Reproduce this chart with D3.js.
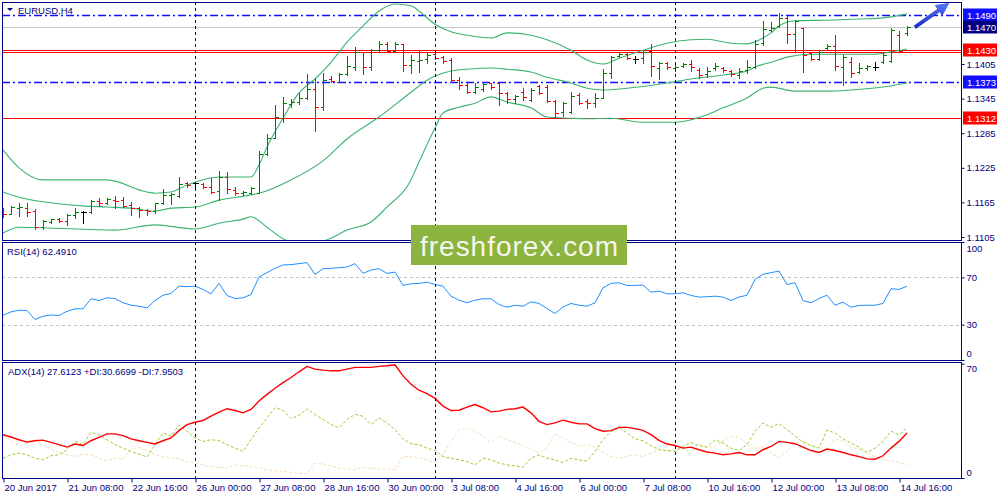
<!DOCTYPE html>
<html>
<head>
<meta charset="utf-8">
<script src="https://cdn.jsdelivr.net/npm/d3@7/dist/d3.min.js"></script>
<style>
  body { margin: 0; background: #fff; }
  text { font-family: "Liberation Sans", Arial, sans-serif; }
</style>
</head>
<body>
<div id="chart"></div>
<script>
// EURUSD H4, 20 Jun - 14 Jul 2017, one label every 8 bars
const timeLabels = ["20 Jun 2017", "21 Jun 08:00", "22 Jun 16:00", "26 Jun 00:00", "27 Jun 08:00",
    "28 Jun 16:00", "30 Jun 00:00", "3 Jul 08:00", "4 Jul 16:00", "6 Jul 00:00", "7 Jul 08:00",
    "10 Jul 16:00", "12 Jul 00:00", "13 Jul 08:00", "14 Jul 16:00"];
const weekStarts = [24, 54, 84];

const open = [1.1150, 1.1145, 1.1155, 1.1155, 1.1150, 1.1122, 1.1131, 1.1136, 1.1133, 1.1143,
    1.1148, 1.1148, 1.1167, 1.1164, 1.1169, 1.1169, 1.1161, 1.1155, 1.1152, 1.1150,
    1.1164, 1.1178, 1.1176, 1.1199, 1.1199, 1.1197, 1.1192, 1.1185, 1.1209, 1.1187,
    1.1181, 1.1181, 1.1181, 1.1249, 1.1277, 1.1311, 1.1336, 1.1339, 1.1346, 1.1362,
    1.1330, 1.1379, 1.1374, 1.1388, 1.1400, 1.1426, 1.1400, 1.1429, 1.1440, 1.1428,
    1.1440, 1.1403, 1.1410, 1.1414, 1.1422, 1.1417, 1.1412, 1.1377, 1.1369, 1.1356,
    1.1362, 1.1372, 1.1372, 1.1355, 1.1344, 1.1356, 1.1343, 1.1367, 1.1365, 1.1341,
    1.1322, 1.1322, 1.1351, 1.1341, 1.1337, 1.1346, 1.1389, 1.1419, 1.1422, 1.1414,
    1.1415, 1.1428, 1.1398, 1.1407, 1.1398, 1.1402, 1.1405, 1.1395, 1.1388, 1.1398,
    1.1398, 1.1393, 1.1386, 1.1395, 1.1400, 1.1441, 1.1464, 1.1471, 1.1485, 1.1457,
    1.1467, 1.1424, 1.1414, 1.1433, 1.1436, 1.1400, 1.1408, 1.1391, 1.1398, 1.1400,
    1.1408, 1.1410, 1.1455, 1.1459];
const high = [1.1155, 1.1159, 1.1164, 1.1164, 1.1154, 1.1134, 1.1136, 1.1138, 1.1145, 1.1155,
    1.1150, 1.1169, 1.1173, 1.1173, 1.1176, 1.1174, 1.1166, 1.1157, 1.1154, 1.1164,
    1.1188, 1.1181, 1.1209, 1.1200, 1.1200, 1.1199, 1.1207, 1.1219, 1.1218, 1.1192,
    1.1185, 1.1192, 1.1254, 1.1284, 1.1334, 1.1348, 1.1344, 1.1355, 1.1388, 1.1381,
    1.1389, 1.1384, 1.1389, 1.1419, 1.1434, 1.1426, 1.1431, 1.1445, 1.1443, 1.1443,
    1.1440, 1.1421, 1.1428, 1.1424, 1.1428, 1.1419, 1.1415, 1.1382, 1.1372, 1.1372,
    1.1374, 1.1372, 1.1372, 1.1356, 1.1351, 1.1363, 1.1363, 1.1369, 1.1369, 1.1343,
    1.1339, 1.1356, 1.1355, 1.1344, 1.1355, 1.1396, 1.1419, 1.1424, 1.1424, 1.1419,
    1.1428, 1.1440, 1.1408, 1.1408, 1.1403, 1.1407, 1.1412, 1.1398, 1.1400, 1.1407,
    1.1400, 1.1395, 1.1398, 1.1412, 1.1447, 1.1480, 1.1478, 1.1493, 1.1488, 1.1481,
    1.1467, 1.1426, 1.1429, 1.1440, 1.1455, 1.1421, 1.1417, 1.1407, 1.1403, 1.1408,
    1.1424, 1.1467, 1.1462, 1.1471];
const low = [1.1140, 1.1145, 1.1141, 1.1141, 1.1119, 1.1119, 1.1129, 1.1131, 1.1126, 1.1138,
    1.1129, 1.1147, 1.1159, 1.1162, 1.1155, 1.1157, 1.1143, 1.1140, 1.1143, 1.1147,
    1.1162, 1.1162, 1.1174, 1.1192, 1.1187, 1.1190, 1.1181, 1.1169, 1.1181, 1.1178,
    1.1178, 1.1180, 1.1181, 1.1247, 1.1277, 1.1304, 1.1330, 1.1336, 1.1344, 1.1289,
    1.1325, 1.1374, 1.1374, 1.1386, 1.1395, 1.1388, 1.1395, 1.1426, 1.1426, 1.1426,
    1.1393, 1.1389, 1.1391, 1.1407, 1.1414, 1.1407, 1.1374, 1.1362, 1.1355, 1.1355,
    1.1358, 1.1362, 1.1334, 1.1337, 1.1337, 1.1343, 1.1341, 1.1353, 1.1339, 1.1313,
    1.1315, 1.1320, 1.1336, 1.1329, 1.1330, 1.1346, 1.1381, 1.1417, 1.1414, 1.1407,
    1.1407, 1.1384, 1.1379, 1.1396, 1.1393, 1.1400, 1.1393, 1.1381, 1.1382, 1.1395,
    1.1391, 1.1384, 1.1381, 1.1389, 1.1398, 1.1438, 1.1462, 1.1469, 1.1441, 1.1426,
    1.1391, 1.1412, 1.1412, 1.1429, 1.1395, 1.1369, 1.1382, 1.1389, 1.1395, 1.1395,
    1.1407, 1.1408, 1.1426, 1.1455];
const close = [1.1145, 1.1157, 1.1157, 1.1148, 1.1122, 1.1133, 1.1136, 1.1133, 1.1143, 1.1148,
    1.1148, 1.1167, 1.1164, 1.1171, 1.1167, 1.1159, 1.1155, 1.1152, 1.1150, 1.1164,
    1.1178, 1.1180, 1.1197, 1.1195, 1.1199, 1.1192, 1.1183, 1.1209, 1.1188, 1.1181,
    1.1183, 1.1190, 1.1249, 1.1277, 1.1313, 1.1337, 1.1339, 1.1346, 1.1362, 1.1330,
    1.1377, 1.1376, 1.1388, 1.1402, 1.1426, 1.1400, 1.1429, 1.1440, 1.1428, 1.1440,
    1.1403, 1.1412, 1.1412, 1.1421, 1.1415, 1.1410, 1.1377, 1.1369, 1.1356, 1.1365,
    1.1370, 1.1365, 1.1355, 1.1344, 1.1350, 1.1348, 1.1360, 1.1355, 1.1341, 1.1320,
    1.1337, 1.1350, 1.1337, 1.1337, 1.1346, 1.1389, 1.1417, 1.1422, 1.1415, 1.1414,
    1.1426, 1.1402, 1.1407, 1.1400, 1.1400, 1.1405, 1.1400, 1.1386, 1.1393, 1.1402,
    1.1395, 1.1388, 1.1393, 1.1400, 1.1440, 1.1466, 1.1467, 1.1485, 1.1457, 1.1480,
    1.1421, 1.1414, 1.1426, 1.1436, 1.1402, 1.1417, 1.1389, 1.1398, 1.1402, 1.1400,
    1.1421, 1.1464, 1.1428, 1.1469];

// Bollinger bands, read at some bars only
const upperIdx = [0, 2, 5, 13, 18, 19, 21, 23, 27, 31, 32, 33, 35, 37, 39, 41, 43, 45, 47, 49,
    51, 52, 54, 56, 58, 61, 63, 66, 68, 71, 73, 75, 77, 80, 83, 86, 88, 91, 93, 95,
    96, 97, 99, 103, 107, 110, 113];
const upperVal = [1.1256, 1.1225, 1.1204, 1.1204, 1.1183, 1.1181, 1.1183, 1.1195, 1.1209, 1.1209,
    1.1230, 1.1261, 1.1311, 1.1355, 1.1379, 1.1408, 1.1443, 1.1471, 1.1497, 1.1509,
    1.1506, 1.1497, 1.1474, 1.1461, 1.1455, 1.1450, 1.1459, 1.1455, 1.1447, 1.1429,
    1.1412, 1.1405, 1.1415, 1.1429, 1.1441, 1.1447, 1.1448, 1.1441, 1.1440, 1.1450,
    1.1459, 1.1471, 1.1480, 1.1481, 1.1483, 1.1485, 1.1492];
const midIdx = [0, 2, 5, 10, 13, 16, 19, 21, 24, 27, 31, 32, 36, 40, 43, 47, 51, 53, 56, 58,
    61, 63, 66, 68, 71, 73, 75, 78, 83, 86, 90, 93, 94, 96, 98, 101, 105, 109, 111, 113];
const midVal = [1.1183, 1.1174, 1.1166, 1.1159, 1.1157, 1.1155, 1.1150, 1.1155, 1.1157, 1.1169,
    1.1178, 1.1181, 1.1204, 1.1237, 1.1275, 1.1313, 1.1356, 1.1377, 1.1393, 1.1396,
    1.1398, 1.1396, 1.1391, 1.1382, 1.1372, 1.1363, 1.1360, 1.1363, 1.1372, 1.1379,
    1.1386, 1.1393, 1.1400, 1.1408, 1.1417, 1.1422, 1.1422, 1.1422, 1.1426, 1.1431];
const lowerIdx = [0, 2, 5, 14, 19, 24, 25, 27, 30, 31, 33, 35, 38, 41, 43, 46, 48, 51, 52, 54,
    55, 57, 59, 61, 63, 66, 68, 71, 73, 76, 80, 84, 88, 90, 93, 95, 96, 99, 103, 106,
    110, 113];
const lowerVal = [1.1112, 1.1122, 1.1121, 1.1117, 1.1126, 1.1119, 1.1121, 1.1129, 1.1136, 1.1140,
    1.1122, 1.1102, 1.1091, 1.1103, 1.1117, 1.1131, 1.1157, 1.1204, 1.1235, 1.1294,
    1.1320, 1.1330, 1.1337, 1.1348, 1.1339, 1.1329, 1.1313, 1.1311, 1.1310, 1.1311,
    1.1304, 1.1304, 1.1317, 1.1329, 1.1346, 1.1363, 1.1365, 1.1358, 1.1358, 1.1360,
    1.1365, 1.1372];

const rsi = [37.9, 40.8, 42.2, 42.0, 34.3, 37.1, 38.2, 37.7, 41.3, 43.4,
    43.4, 51.9, 50.4, 52.7, 52.1, 48.5, 46.4, 45.6, 44.2, 50.4,
    54.9, 56.4, 62.6, 62.1, 62.6, 59.8, 56.1, 64.9, 54.7, 52.1,
    52.7, 55.5, 70.3, 74.0, 77.7, 80.6, 80.8, 81.7, 82.5, 72.6,
    77.4, 77.7, 78.2, 78.8, 81.7, 73.4, 76.2, 77.4, 73.4, 74.5,
    63.2, 64.6, 64.9, 66.0, 64.0, 62.6, 54.1, 50.7, 48.5, 50.7,
    51.9, 51.9, 47.0, 44.7, 46.4, 45.6, 49.3, 47.9, 43.6, 39.4,
    45.0, 47.9, 46.4, 45.6, 48.5, 61.2, 64.9, 65.5, 63.2, 63.2,
    63.5, 57.5, 58.4, 56.1, 56.1, 57.0, 54.7, 53.3, 53.6, 54.1,
    53.3, 50.4, 53.3, 54.9, 68.3, 72.6, 74.0, 75.4, 64.0, 65.5,
    50.4, 48.5, 52.1, 54.9, 46.4, 49.0, 44.7, 46.2, 46.4, 46.4,
    47.9, 60.4, 59.8, 62.5];

const adx = [26.5, 25.1, 23.4, 22.0, 22.8, 23.2, 21.8, 20.4, 18.9, 20.8,
    19.9, 22.8, 24.9, 27.0, 27.0, 25.9, 23.9, 22.8, 21.8, 20.8,
    22.8, 24.5, 29.0, 32.7, 34.1, 35.2, 37.8, 40.3, 42.4, 41.3,
    39.9, 42.0, 47.1, 51.2, 54.9, 58.4, 61.5, 65.0, 68.3, 66.6,
    66.0, 65.6, 65.6, 66.6, 67.7, 67.7, 67.7, 68.3, 68.7, 69.3,
    62.5, 57.4, 53.7, 51.6, 48.7, 44.0, 41.3, 41.5, 43.4, 45.0,
    43.0, 40.5, 40.9, 42.0, 42.4, 43.4, 39.9, 34.7, 32.7, 33.7,
    35.4, 34.1, 33.1, 33.1, 30.2, 28.6, 29.0, 31.0, 31.0, 30.2,
    29.2, 26.5, 23.0, 20.8, 19.9, 18.3, 18.9, 17.3, 15.9, 15.2,
    14.2, 14.8, 15.6, 14.2, 14.2, 17.3, 19.3, 22.4, 21.8, 21.0,
    18.9, 16.8, 15.6, 17.7, 16.8, 15.6, 14.2, 13.1, 11.7, 11.5,
    13.6, 18.3, 22.4, 27.6];
const plusDI = [12.1, 14.2, 15.2, 14.2, 12.1, 11.1, 13.6, 14.2, 17.3, 22.4,
    20.4, 28.0, 26.5, 23.4, 20.4, 18.3, 16.2, 14.6, 12.8, 20.4,
    27.6, 25.5, 32.3, 28.6, 24.5, 22.4, 23.4, 23.0, 20.4, 18.3,
    16.2, 23.4, 30.7, 36.8, 43.0, 41.5, 36.4, 38.3, 42.4, 38.9,
    35.8, 32.7, 30.7, 35.8, 38.9, 37.8, 32.7, 36.8, 33.7, 29.6,
    23.9, 21.0, 20.4, 18.3, 16.8, 13.1, 12.1, 11.1, 10.1, 8.0,
    12.1, 11.1, 9.2, 8.0, 7.4, 6.6, 12.1, 14.2, 12.1, 11.1,
    9.4, 12.1, 11.1, 10.5, 16.2, 23.4, 28.6, 30.7, 27.6, 23.9,
    22.8, 19.7, 17.3, 16.8, 16.2, 19.3, 21.8, 19.7, 18.9, 23.4,
    21.4, 18.3, 16.8, 20.4, 28.6, 33.7, 31.0, 33.3, 29.6, 25.9,
    21.8, 19.7, 18.3, 29.2, 27.6, 23.9, 21.4, 18.9, 15.6, 18.3,
    22.4, 28.6, 26.5, 30.7];
const minusDI = [25.5, 23.4, 19.7, 21.4, 23.4, 20.4, 17.7, 15.6, 14.2, 13.1,
    14.6, 14.2, 12.1, 10.5, 12.1, 11.5, 17.7, 18.7, 16.8, 14.2,
    13.1, 12.1, 11.7, 10.1, 9.4, 8.0, 7.0, 6.6, 6.0, 8.0,
    7.4, 7.0, 6.0, 4.9, 4.5, 3.9, 3.5, 2.9, 2.5, 9.1,
    8.6, 7.4, 6.0, 5.4, 4.9, 6.6, 6.0, 5.4, 5.4, 4.9,
    13.1, 13.1, 12.1, 11.1, 9.4, 14.8, 22.4, 29.6, 30.7, 28.6,
    25.5, 21.4, 25.9, 23.4, 21.8, 19.7, 17.7, 15.2, 18.9, 27.1,
    24.5, 21.8, 19.7, 20.4, 18.9, 15.6, 13.1, 12.1, 13.1, 14.2,
    13.1, 15.2, 17.7, 16.8, 17.3, 18.9, 14.8, 21.0, 18.9, 18.9,
    22.8, 25.5, 25.1, 20.4, 17.7, 19.3, 15.2, 12.5, 16.2, 21.4,
    22.4, 20.4, 18.3, 18.3, 23.9, 22.4, 18.9, 17.7, 15.6, 13.1,
    11.5, 10.5, 9.4, 8.0];

const priceTicks = [1.1405, 1.1345, 1.1285, 1.1225, 1.1165, 1.1105];
const dashDotLevels = [1.1490, 1.1373];
const redLevels = [1.1430, 1.1426, 1.1312];
const bidPrice = 1.1470;
const levelTags = [
    { p: 1.1490, color: "#1010ff" },
    { p: 1.1470, color: "#000080" },
    { p: 1.1430, color: "#ff0000" },
    { p: 1.1373, color: "#1010ff" },
    { p: 1.1312, color: "#ff0000" }
];
const trendArrow = { from: [114, 1.1469], to: [118.2, 1.1510] };


document.addEventListener('DOMContentLoaded', function () {
    const width = 1000;
    const height = 500;
    const left = 2, right = 961;
    const mainTop = 2, mainBottom = 240;
    const rsiTop = 242, rsiBottom = 360;
    const adxTop = 362, adxBottom = 478;
    const navy = "#000080";

    const svg = d3.select("#chart")
        .append("svg")
        .attr("width", width)
        .attr("height", height);

    const x = d3.scaleLinear().domain([0, 113]).range([3, 907]);
    const y = d3.scaleLinear().domain([1.1105, 1.1490]).range([237, 15]);
    const yRsi = d3.scaleLinear().domain([0, 100]).range([rsiBottom, rsiTop]);
    const yAdx = d3.scaleLinear().domain([0, 71]).range([adxBottom, adxTop]);
    const px = i => Math.round(x(i)) + 0.5;

    const defs = svg.append("defs");
    [["clipMain", mainTop, mainBottom], ["clipRsi", rsiTop, rsiBottom], ["clipAdx", adxTop, adxBottom]]
        .forEach(([id, t, b]) => {
            defs.append("clipPath").attr("id", id)
                .append("rect").attr("x", left).attr("y", t).attr("width", right - left).attr("height", b - t);
        });

    const main = svg.append("g").attr("clip-path", "url(#clipMain)");

    // horizontal levels
    main.append("line")
        .attr("x1", left).attr("x2", right)
        .attr("y1", Math.round(y(bidPrice)) + 0.5).attr("y2", Math.round(y(bidPrice)) + 0.5)
        .attr("stroke", "#c8c8c8");

    main.selectAll(".dd")
        .data(dashDotLevels)
        .enter().append("line")
        .attr("x1", left).attr("x2", right)
        .attr("y1", d => Math.round(y(d)) + 0.5).attr("y2", d => Math.round(y(d)) + 0.5)
        .attr("stroke", "#1010ff")
        .attr("stroke-width", 1.3)
        .attr("stroke-dasharray", "8,3,2,3");

    main.selectAll(".red")
        .data(redLevels)
        .enter().append("line")
        .attr("x1", left).attr("x2", right)
        .attr("y1", d => Math.round(y(d)) + 0.5).attr("y2", d => Math.round(y(d)) + 0.5)
        .attr("stroke", "#ff0000")
        .attr("stroke-width", 1.2);

    // bollinger bands
    const band = d3.line()
        .x(d => x(d[0]))
        .y(d => y(d[1]))
        .curve(d3.curveMonotoneX);

    [[upperIdx, upperVal], [midIdx, midVal], [lowerIdx, lowerVal]].forEach(([idx, val]) => {
        main.append("path")
            .datum(d3.zip(idx, val))
            .attr("fill", "none")
            .attr("stroke", "#3cb371")
            .attr("stroke-width", 1.1)
            .attr("d", band);
    });

    // OHLC bars
    const bars = open.map((o, i) => ({ i: i, o: o, h: high[i], l: low[i], c: close[i] }));
    const barColor = d => d.c > d.o ? "#008000" : (d.c < d.o ? "#ff0000" : "#000000");

    const bar = main.append("g")
        .attr("shape-rendering", "crispEdges")
        .selectAll("g")
        .data(bars)
        .enter().append("g")
        .attr("stroke", barColor);

    bar.append("line")
        .attr("x1", d => px(d.i)).attr("x2", d => px(d.i))
        .attr("y1", d => Math.round(y(d.h))).attr("y2", d => Math.round(y(d.l)) + 1);
    bar.append("line")
        .attr("x1", d => px(d.i) - 3).attr("x2", d => px(d.i))
        .attr("y1", d => Math.round(y(d.o)) + 0.5).attr("y2", d => Math.round(y(d.o)) + 0.5);
    bar.append("line")
        .attr("x1", d => px(d.i)).attr("x2", d => px(d.i) + 3)
        .attr("y1", d => Math.round(y(d.c)) + 0.5).attr("y2", d => Math.round(y(d.c)) + 0.5);

    // arrow
    const a0 = [x(trendArrow.from[0]), y(trendArrow.from[1])];
    const a1 = [x(trendArrow.to[0]), y(trendArrow.to[1])];
    const len = Math.hypot(a1[0] - a0[0], a1[1] - a0[1]);
    const ux = (a1[0] - a0[0]) / len, uy = (a1[1] - a0[1]) / len;
    const nx = -uy, ny = ux;
    const head = 12, hw = 6, sw = 1.6;
    const bx = a1[0] - head * ux, by = a1[1] - head * uy;
    const arrowPts = [
        [a0[0] + sw * nx, a0[1] + sw * ny],
        [bx + sw * nx, by + sw * ny],
        [bx + hw * nx, by + hw * ny],
        a1,
        [bx - hw * nx, by - hw * ny],
        [bx - sw * nx, by - sw * ny],
        [a0[0] - sw * nx, a0[1] - sw * ny]
    ];
    const grad = defs.append("linearGradient").attr("id", "arrowGrad")
        .attr("x1", "0").attr("y1", "0").attr("x2", "0").attr("y2", "1");
    grad.append("stop").attr("offset", "0").attr("stop-color", "#5a78ff");
    grad.append("stop").attr("offset", "1").attr("stop-color", "#1428c8");
    svg.append("path")
        .attr("d", "M" + arrowPts.map(p => p.join(",")).join("L") + "Z")
        .attr("fill", "url(#arrowGrad)")
        .attr("stroke", "#1a2cc0")
        .attr("stroke-width", 0.6);

    // RSI panel
    const rsiG = svg.append("g").attr("clip-path", "url(#clipRsi)");
    [70, 30].forEach(v => {
        rsiG.append("line")
            .attr("x1", left).attr("x2", right)
            .attr("y1", Math.round(yRsi(v)) + 0.5).attr("y2", Math.round(yRsi(v)) + 0.5)
            .attr("stroke", "#c0c0c0")
            .attr("stroke-dasharray", "3,3");
    });
    rsiG.append("path")
        .datum(rsi)
        .attr("fill", "none")
        .attr("stroke", "#1e90ff")
        .attr("stroke-width", 1)
        .attr("d", d3.line().x((d, i) => x(i)).y(d => yRsi(d)));

    // ADX panel
    const adxG = svg.append("g").attr("clip-path", "url(#clipAdx)");
    const adxLine = d3.line().x((d, i) => x(i)).y(d => yAdx(d));
    adxG.append("path").datum(minusDI)
        .attr("fill", "none").attr("stroke", "#f5deb3").attr("stroke-width", 1)
        .attr("stroke-dasharray", "3,2").attr("d", adxLine);
    adxG.append("path").datum(plusDI)
        .attr("fill", "none").attr("stroke", "#9acd32").attr("stroke-width", 1)
        .attr("stroke-dasharray", "3,2").attr("d", adxLine);
    adxG.append("path").datum(adx)
        .attr("fill", "none").attr("stroke", "#ff0000").attr("stroke-width", 1.4)
        .attr("d", adxLine);

    // week separators
    svg.append("g").selectAll("line")
        .data(weekStarts)
        .enter().append("line")
        .attr("x1", d => px(d)).attr("x2", d => px(d))
        .attr("y1", mainTop).attr("y2", adxBottom)
        .attr("stroke", navy)
        .attr("stroke-dasharray", "3,3");

    // panel frames
    [[mainTop, mainBottom], [rsiTop, rsiBottom], [adxTop, adxBottom]].forEach(([t, b]) => {
        svg.append("rect")
            .attr("x", left + 0.5).attr("y", t + 0.5)
            .attr("width", right - left).attr("height", b - t)
            .attr("fill", "none").attr("stroke", navy)
            .attr("shape-rendering", "crispEdges");
    });

    // right axes
    const styleAxis = g => g
        .attr("font-family", "'Liberation Sans', Arial, sans-serif")
        .attr("font-size", 9.5)
        .call(g => g.select(".domain").remove())
        .call(g => g.selectAll("line").attr("stroke", navy))
        .call(g => g.selectAll("text").attr("fill", navy).attr("x", 5));

    svg.append("g")
        .attr("transform", `translate(${right + 0.5},0)`)
        .call(d3.axisRight(y).tickValues(priceTicks).tickSize(3).tickFormat(d3.format(".4f")))
        .call(styleAxis);

    svg.append("g")
        .attr("transform", `translate(${right + 0.5},0)`)
        .call(d3.axisRight(yRsi).tickValues([100, 70, 30, 0]).tickSize(3))
        .call(styleAxis)
        .call(g => g.selectAll("text").attr("dy", d => d === 100 ? "1.05em" : d === 0 ? "-0.42em" : "0.32em"));

    svg.append("g")
        .attr("transform", `translate(${right + 0.5},0)`)
        .call(d3.axisRight(yAdx).tickValues([70, 0]).tickSize(3))
        .call(styleAxis)
        .call(g => g.selectAll("text").attr("dy", d => d === 70 ? "0.78em" : "-0.31em"));

    // price tags
    const tag = svg.append("g").selectAll("g")
        .data(levelTags)
        .enter().append("g")
        .attr("transform", d => `translate(${right + 2},${Math.round(y(d.p))})`);
    tag.append("rect")
        .attr("x", 0).attr("y", -6.5)
        .attr("width", 34).attr("height", 13)
        .attr("fill", d => d.color);
    tag.append("text")
        .attr("x", 4).attr("y", 0.5)
        .attr("dominant-baseline", "central")
        .attr("font-size", 9.5)
        .attr("fill", "#fff")
        .text(d => d3.format(".4f")(d.p));

    // time axis
    svg.append("g")
        .attr("transform", `translate(0,${adxBottom + 0.5})`)
        .call(d3.axisBottom(x).tickValues(timeLabels.map((t, k) => k * 8)).tickSize(4)
            .tickFormat((d, k) => timeLabels[k]))
        .call(g => g.select(".domain").remove())
        .attr("font-family", "'Liberation Sans', Arial, sans-serif")
        .attr("font-size", 9.5)
        .call(g => g.selectAll("line").attr("stroke", navy).attr("transform", "translate(0.5,0)"))
        .call(g => g.selectAll("text").attr("fill", navy).attr("text-anchor", "start").attr("x", 1).attr("y", 6));

    // panel captions
    svg.append("path")
        .attr("d", "M7,8L13,8L10,11Z")
        .attr("fill", navy);
    svg.append("text").attr("x", 18).attr("y", 14)
        .attr("font-size", 9.5).attr("fill", navy)
        .text("EURUSD,H4");
    svg.append("text").attr("x", 7).attr("y", 255)
        .attr("font-size", 9.5).attr("fill", navy)
        .text("RSI(14) " + "62.4910");
    svg.append("text").attr("x", 8).attr("y", 375)
        .attr("font-size", 9.5).attr("fill", navy)
        .text("ADX(14) 27.6123 +DI:30.6699 -DI:7.9503");

    // watermark
    svg.append("rect")
        .attr("x", 411).attr("y", 225)
        .attr("width", 216).attr("height", 40)
        .attr("fill", "#8db43f");
    svg.append("text")
        .attr("x", 420).attr("y", 256)
        .attr("font-family", "'Open Sans', sans-serif")
        .attr("font-size", 28)
        .attr("textLength", 198)
        .attr("fill", "#ffffff")
        .attr("fill-opacity", 0.92)
        .text("freshforex.com");
});
</script>
</body>
</html>
